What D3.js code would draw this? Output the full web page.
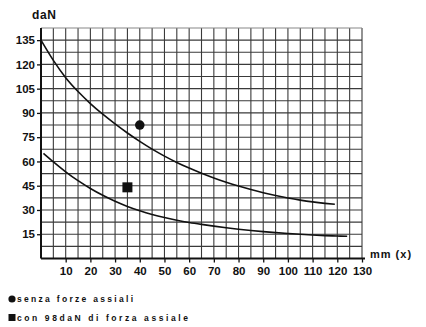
<!DOCTYPE html>
<html>
<head>
<meta charset="utf-8">
<script src="https://cdn.jsdelivr.net/npm/d3@7/dist/d3.min.js"></script>
<style>
  html, body { margin: 0; padding: 0; background: #fff; }
  svg { display: block; }
  text { font-family: "Liberation Sans", Arial, sans-serif; fill: #111; }
</style>
</head>
<body>
<svg id="chart" width="426" height="327"></svg>
<script>
// Load (daN) versus distance (mm) curves
const xTicks = [10, 20, 30, 40, 50, 60, 70, 80, 90, 100, 110, 120, 130];
const yTicks = [15, 30, 45, 60, 75, 90, 105, 120, 135];

// upper curve
const upperX = [0, 5, 10, 15, 20, 25, 30, 35, 40, 45, 50, 55, 60, 65, 70, 75, 80, 85, 90, 95, 100, 105, 110, 115, 119];
const upperY = [135, 122.5, 111.8, 103.2, 95.8, 89.2, 83.2, 77.6, 72.4, 67.6, 63.3, 59.4, 55.9, 52.7, 49.8, 47.2, 44.8, 42.6, 40.6, 38.9, 37.4, 36.1, 35, 34.1, 33.5];

// lower curve
const lowerX = [1, 5, 10, 15, 20, 25, 30, 35, 40, 45, 50, 55, 60, 65, 70, 75, 80, 85, 90, 95, 100, 105, 110, 115, 120, 124];
const lowerY = [65, 59.8, 53.6, 48.1, 43.3, 39.1, 35.4, 32.2, 29.5, 27.2, 25.3, 23.7, 22.3, 21.1, 20, 19, 18.1, 17.3, 16.6, 16, 15.45, 14.95, 14.5, 14.15, 13.9, 13.75];

// single points
const circlePoint = { x: 40, y: 82.5 };
const squarePoint = { x: 35, y: 44 };

const legendLabels = ["senza forze assiali", "con 98daN di forza assiale"];

const svg = d3.select("#chart");
const x = d3.scaleLinear().domain([0, 130]).range([41, 362]);
const y = d3.scaleLinear().domain([0, 142.5]).range([258.5, 28]);

// grid: every 5 mm and every 7.5 daN
const gx = d3.range(5, 130 + 0.01, 5);
const gy = d3.range(7.5, 142.5 + 0.01, 7.5);
const grid = svg.append("g").attr("stroke", "#3a3a3a").attr("stroke-width", 1.1);
grid.selectAll("line.v").data(gx).join("line")
  .attr("x1", d => x(d)).attr("x2", d => x(d))
  .attr("y1", y(142.5)).attr("y2", y(0));
grid.selectAll("line.h").data(gy).join("line")
  .attr("y1", d => y(d)).attr("y2", d => y(d))
  .attr("x1", x(0)).attr("x2", x(130))
  .attr("stroke", d => d === 142.5 ? "#888" : "#3a3a3a");

// axes
const xAxis = d3.axisBottom(x).tickValues(xTicks).tickSize(4).tickPadding(4);
const yAxis = d3.axisLeft(y).tickValues(yTicks).tickSize(4).tickPadding(2);

const gX = svg.append("g").attr("transform", `translate(0,${y(0)})`).call(xAxis);
const gY = svg.append("g").attr("transform", `translate(${x(0)},0)`).call(yAxis);
[gX, gY].forEach(g => {
  g.select(".domain").remove();
  g.selectAll(".tick line").attr("stroke", "#111").attr("stroke-width", 1.3);
  g.selectAll(".tick text")
    .style("font-family", '"Liberation Sans", Arial, sans-serif')
    .style("font-size", "11.5px").style("font-weight", "bold").attr("fill", "#111");
});

// main axis lines
svg.append("line").attr("x1", x(0)).attr("x2", x(130) + 3)
  .attr("y1", y(0)).attr("y2", y(0)).attr("stroke", "#111").attr("stroke-width", 2);
svg.append("line").attr("x1", x(0)).attr("x2", x(0))
  .attr("y1", y(142.5)).attr("y2", y(0)).attr("stroke", "#111").attr("stroke-width", 2);

// axis titles
svg.append("text").attr("x", 32).attr("y", 19)
  .style("font-size", "12px").style("font-weight", "bold").style("letter-spacing", "0.6px")
  .text("daN");
svg.append("text").attr("x", 370).attr("y", 258)
  .style("font-size", "11px").style("font-weight", "bold").style("letter-spacing", "1px")
  .text("mm (x)");

// curves
const line = d3.line().x(d => x(d[0])).y(d => y(d[1])).curve(d3.curveMonotoneX);
const curves = [d3.zip(upperX, upperY), d3.zip(lowerX, lowerY)];
svg.selectAll("path.curve").data(curves).join("path")
  .attr("class", "curve")
  .attr("d", line)
  .attr("fill", "none").attr("stroke", "#111").attr("stroke-width", 1.6);

// points
svg.append("circle").attr("cx", x(circlePoint.x)).attr("cy", y(circlePoint.y))
  .attr("r", 4.8).attr("fill", "#111");
svg.append("rect").attr("x", x(squarePoint.x) - 5).attr("y", y(squarePoint.y) - 5)
  .attr("width", 10).attr("height", 10).attr("fill", "#111");

// legend
const legendWidths = [116, 171];
const lg = svg.append("g");
lg.append("circle").attr("cx", 12).attr("cy", 299).attr("r", 3.6).attr("fill", "#111");
lg.append("rect").attr("x", 8.5).attr("y", 314).attr("width", 7).attr("height", 7).attr("fill", "#111");
lg.selectAll("text").data(legendLabels).join("text")
  .attr("x", 17).attr("y", (d, i) => 302 + i * 18.5)
  .attr("textLength", (d, i) => legendWidths[i])
  .attr("lengthAdjust", "spacing")
  .style("font-size", "8.5px").style("font-weight", "bold")
  .text(d => d);
</script>
</body>
</html>
